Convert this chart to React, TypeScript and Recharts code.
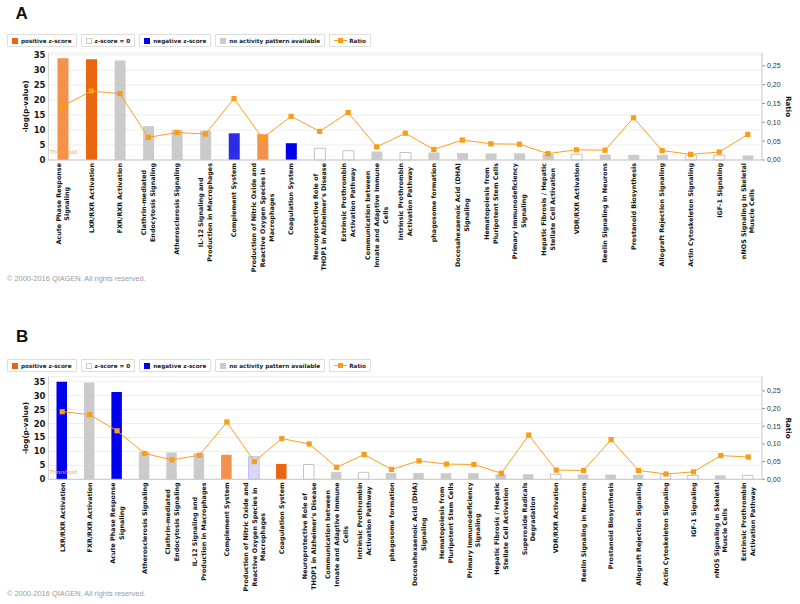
import React from "react";
import { ComposedChart, Bar, Line, XAxis, YAxis, CartesianGrid, Cell, ReferenceLine } from "recharts";

// ---- panel A ----
const categoriesA = [
  "Acute Phase Response\nSignaling",
  "LXR/RXR Activation",
  "FXR/RXR Activation",
  "Clathrin-mediated\nEndocytosis Signaling",
  "Atherosclerosis Signaling",
  "IL-12 Signaling and\nProduction in Macrophages",
  "Complement System",
  "Production of Nitric Oxide and\nReactive Oxygen Species in\nMacrophages",
  "Coagulation System",
  "Neuroprotective Role of\nTHOP1 in Alzheimer's Disease",
  "Extrinsic Prothrombin\nActivation Pathway",
  "Communication between\nInnate and Adaptive Immune\nCells",
  "Intrinsic Prothrombin\nActivation Pathway",
  "phagosome formation",
  "Docosahexaenoic Acid (DHA)\nSignaling",
  "Hematopoiesis from\nPluripotent Stem Cells",
  "Primary Immunodeficiency\nSignaling",
  "Hepatic Fibrosis / Hepatic\nStellate Cell Activation",
  "VDR/RXR Activation",
  "Reelin Signaling in Neurons",
  "Prostanoid Biosynthesis",
  "Allograft Rejection Signaling",
  "Actin Cytoskeleton Signaling",
  "IGF-1 Signaling",
  "nNOS Signaling in Skeletal\nMuscle Cells",
];
const logPA = [33.9, 33.6, 33.2, 11.3, 10.0, 9.8, 8.9, 8.6, 5.6, 3.9, 3.1, 2.8, 2.5, 2.5, 2.3, 2.2, 2.2, 2.0, 1.9, 1.8, 1.7, 1.7, 1.6, 1.6, 1.5];
const ratioA = [0.143, 0.183, 0.176, 0.06, 0.073, 0.069, 0.163, 0.058, 0.116, 0.076, 0.126, 0.035, 0.071, 0.028, 0.053, 0.043, 0.042, 0.017, 0.027, 0.026, 0.112, 0.025, 0.015, 0.021, 0.068];
const zA = ["posL", "pos", "na", "na", "na", "na", "negM", "posL", "neg", "zero", "zero", "na", "zero", "na", "na", "na", "na", "na", "zero", "na", "na", "na", "zero", "zero", "na"];

// ---- panel B ----
const categoriesB = [
  "LXR/RXR Activation",
  "FXR/RXR Activation",
  "Acute Phase Response\nSignaling",
  "Atherosclerosis Signaling",
  "Clathrin-mediated\nEndocytosis Signaling",
  "IL-12 Signaling and\nProduction in Macrophages",
  "Complement System",
  "Production of Nitric Oxide and\nReactive Oxygen Species in\nMacrophages",
  "Coagulation System",
  "Neuroprotective Role of\nTHOP1 in Alzheimer's Disease",
  "Communication between\nInnate and Adaptive Immune\nCells",
  "Intrinsic Prothrombin\nActivation Pathway",
  "phagosome formation",
  "Docosahexaenoic Acid (DHA)\nSignaling",
  "Hematopoiesis from\nPluripotent Stem Cells",
  "Primary Immunodeficiency\nSignaling",
  "Hepatic Fibrosis / Hepatic\nStellate Cell Activation",
  "Superoxide Radicals\nDegradation",
  "VDR/RXR Activation",
  "Reelin Signaling in Neurons",
  "Prostanoid Biosynthesis",
  "Allograft Rejection Signaling",
  "Actin Cytoskeleton Signaling",
  "IGF-1 Signaling",
  "nNOS Signaling in Skeletal\nMuscle Cells",
  "Extrinsic Prothrombin\nActivation Pathway",
];
const logPB = [35.0, 34.7, 31.3, 9.8, 9.6, 9.4, 8.8, 8.1, 5.5, 5.3, 2.6, 2.5, 2.3, 2.3, 2.2, 2.2, 1.8, 1.8, 1.8, 1.7, 1.7, 1.6, 1.6, 1.4, 1.4, 1.4];
const ratioB = [0.191, 0.183, 0.137, 0.073, 0.055, 0.068, 0.162, 0.05, 0.115, 0.1, 0.034, 0.07, 0.028, 0.052, 0.043, 0.042, 0.017, 0.125, 0.026, 0.025, 0.112, 0.025, 0.015, 0.021, 0.067, 0.063];
const zB = ["neg", "na", "neg", "na", "na", "na", "posL", "negL", "pos", "zero", "na", "zero", "na", "na", "na", "na", "na", "na", "zero", "na", "na", "na", "zero", "zero", "na", "zero"];

const leftTicks = [0, 5, 10, 15, 20, 25, 30, 35];
const rightTicks = [0, 0.05, 0.1, 0.15, 0.2, 0.25];
const legendLabels = ["positive z-score", "z-score = 0", "negative z-score", "no activity pattern available", "Ratio"];
const THRESHOLD = 1.3;

const FILL: Record<string, string> = {
  pos: "#e8660e", posL: "#f4914b", zero: "#ffffff", neg: "#0000ee", negM: "#2c2ce6", negL: "#d8d8f8", na: "#cbcbcb",
};
const STROKE: Record<string, string> = { zero: "#c4c4c4", negL: "#bdbdf0" };
const ORANGE = "#f9a11e";

const LABEL_SIZE = 6.4;
const LABEL_FONT = `bold ${LABEL_SIZE}px "DejaVu Sans"`;
let ctx: CanvasRenderingContext2D | null = null;
function textWidth(s: string) {
  if (!ctx) ctx = document.createElement("canvas").getContext("2d");
  if (!ctx) return s.length * LABEL_SIZE * 0.62;
  ctx.font = LABEL_FONT;
  return ctx.measureText(s).width;
}

function CategoryTick({ x, y, payload }: any) {
  const lines = String(payload.value).split("\n");
  const maxW = Math.max(...lines.map(textWidth));
  const lh = 8.7;
  return (
    <g transform={`translate(${x},${y}) rotate(-90)`}>
      {lines.map((l, i) => (
        <text key={i} x={-maxW / 2} y={(i - (lines.length - 1) / 2) * lh} dy="0.36em" textAnchor="middle"
          fontFamily="DejaVu Sans" fontWeight="bold" fontSize={LABEL_SIZE} fill="#151515">{l}</text>
      ))}
    </g>
  );
}

const squareDot = (props: any) => {
  const { cx, cy, index } = props;
  if (cx == null || cy == null) return <g key={index} />;
  return <rect key={index} x={cx - 2.6} y={cy - 2.6} width={5.2} height={5.2} fill="#f99c16" />;
};

const thresholdLabel = (props: any) => {
  const vb = props.viewBox || {};
  return <text x={(vb.x || 0) + 1} y={(vb.y || 0) - 2} fontFamily="DejaVu Sans" fontSize={5.6} fill="#f7a845">Threshold</text>;
};

function Legend({ top }: { top: number }) {
  return (
    <div style={{ position: "absolute", top, left: 7, display: "flex", gap: 4, fontFamily: "DejaVu Sans", fontWeight: "bold", fontSize: 5.7, color: "#222" }}>
      {legendLabels.map((label, i) => {
        let sw: React.ReactNode;
        if (i === 4) {
          sw = (
            <svg width={13} height={7} style={{ marginRight: 2 }}>
              <line x1={0} y1={3.5} x2={13} y2={3.5} stroke={ORANGE} strokeWidth={1} />
              <rect x={4} y={1} width={5} height={5} fill="#f99c16" />
            </svg>
          );
        } else {
          const key = ["pos", "zero", "neg", "na"][i];
          sw = <span style={{ display: "inline-block", width: 6, height: 6, background: FILL[key], border: key === "zero" ? "1px solid #ccc" : "none", boxSizing: "border-box", marginRight: 3 }} />;
        }
        return (
          <div key={label} style={{ height: 13, boxSizing: "border-box", border: "1px solid #dedede", borderRadius: 1, display: "flex", alignItems: "center", padding: "0 4px", background: "#fff", boxShadow: "0 0 1px #eee" }}>
            {sw}
            <span style={{ whiteSpace: "nowrap" }}>{label}</span>
          </div>
        );
      })}
    </div>
  );
}

type PanelProps = {
  chartTop: number; plotTop: number; plotBottom: number; leftMax: number; rightMax: number; barSize: number;
  categories: string[]; logP: number[]; ratios: number[]; zs: string[];
};

function Panel({ chartTop, plotTop, plotBottom, leftMax, rightMax, barSize, categories, logP, ratios, zs }: PanelProps) {
  const data = categories.map((name, i) => ({ name, p: logP[i], ratio: ratios[i], z: zs[i] }));
  const xh = 122;
  const height = plotBottom - chartTop + xh;
  return (
    <div style={{ position: "absolute", left: 0, top: chartTop }}>
      <ComposedChart width={800} height={height} data={data} margin={{ top: plotTop - chartTop, right: 0, bottom: 0, left: 0 }} barCategoryGap={0}>
        <CartesianGrid yAxisId="left" vertical={false} stroke="#ededed" />
        <XAxis dataKey="name" interval={0} height={xh} tick={<CategoryTick />} tickLine={false} tickSize={0} tickMargin={3} axisLine={{ stroke: "#c8c8c8" }} />
        <XAxis xAxisId="top" orientation="top" dataKey="name" height={0} tick={false} tickLine={false} axisLine={{ stroke: "#cfcfcf" }} />
        <YAxis yAxisId="left" width={48.5} domain={[0, leftMax]} ticks={leftTicks} interval={0} tickLine={false} tickSize={0} tickMargin={3}
          axisLine={{ stroke: "#d4d4d4" }} tick={{ fontSize: 8.5, fontWeight: "bold", fill: "#1a1a1a", fontFamily: "DejaVu Sans" }} />
        <YAxis yAxisId="right" orientation="right" width={38} domain={[0, rightMax]} ticks={rightTicks} interval={0} tickSize={3} tickMargin={2}
          tickLine={{ stroke: "#999" }} axisLine={{ stroke: "#c8c8c8" }}
          tickFormatter={(v: number) => v.toFixed(2).replace(".", ",")}
          tick={{ fontSize: 7, fill: "#333", fontFamily: "Liberation Sans" }} />
        <Bar yAxisId="left" dataKey="p" barSize={barSize} isAnimationActive={false}>
          {data.map((d, i) => (
            <Cell key={i} fill={FILL[d.z]} stroke={STROKE[d.z] || "none"} strokeWidth={1} />
          ))}
        </Bar>
        <ReferenceLine yAxisId="left" y={THRESHOLD} stroke="#f9a11e" strokeOpacity={0.12} strokeWidth={0.6} label={thresholdLabel} />
        <Line yAxisId="right" type="linear" dataKey="ratio" stroke={ORANGE} strokeWidth={1} dot={squareDot} activeDot={false} isAnimationActive={false} />
      </ComposedChart>
    </div>
  );
}

function Titles() {
  const axisStyle = { fontFamily: "DejaVu Sans", fontWeight: "bold" as const, fontSize: 7.2, fill: "#111" };
  const copy = { fontFamily: "Liberation Sans", fontSize: 7.4, fill: "#9b9b9b" };
  return (
    <svg width={800} height={604} style={{ position: "absolute", left: 0, top: 0, pointerEvents: "none" }}>
      <text x={15.5} y={19.3} fontFamily="Liberation Sans" fontWeight="bold" fontSize={17} fill="#111">A</text>
      <text x={16} y={341.6} fontFamily="Liberation Sans" fontWeight="bold" fontSize={17} fill="#111">B</text>
      <text transform="translate(27.5,106.5) rotate(-90)" textAnchor="middle" {...axisStyle}>-log(p-value)</text>
      <text transform="translate(786,106.5) rotate(90)" textAnchor="middle" {...axisStyle}>Ratio</text>
      <text transform="translate(27.5,428) rotate(-90)" textAnchor="middle" {...axisStyle}>-log(p-value)</text>
      <text transform="translate(786,428) rotate(90)" textAnchor="middle" {...axisStyle}>Ratio</text>
      <text x={7} y={280.8} {...copy}>© 2000-2016 QIAGEN. All rights reserved.</text>
      <text x={7} y={596} {...copy}>© 2000-2016 QIAGEN. All rights reserved.</text>
    </svg>
  );
}

export default function App() {
  return (
    <div style={{ position: "absolute", left: 0, top: 0, width: 800, height: 604, overflow: "hidden", background: "#fff" }}>
      <Legend top={34} />
      <Panel chartTop={0} plotTop={53} plotBottom={160} leftMax={35.67} rightMax={0.284} barSize={11}
        categories={categoriesA} logP={logPA} ratios={ratioA} zs={zA} />
      <Legend top={359} />
      <Panel chartTop={318} plotTop={376.7} plotBottom={479.3} leftMax={36.8} rightMax={0.29} barSize={10.5}
        categories={categoriesB} logP={logPB} ratios={ratioB} zs={zB} />
      <Titles />
    </div>
  );
}
